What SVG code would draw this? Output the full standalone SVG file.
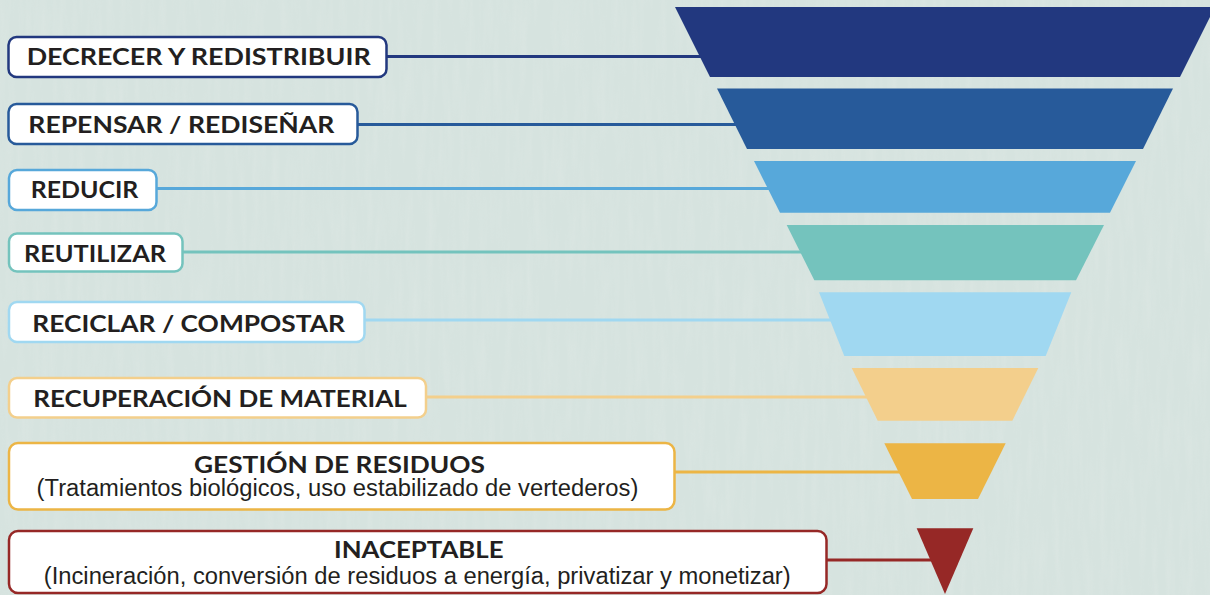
<svg xmlns="http://www.w3.org/2000/svg" width="1210" height="595" viewBox="0 0 1210 595">
<defs>
<style>
.bg{fill:#d6e3df}
.box{fill:#ffffff;stroke-width:2.5}
.t{font-family:"Lato","Open Sans","Liberation Sans",sans-serif;font-weight:700;font-size:23px;fill:#231f20}
.s{font-family:"Liberation Sans","Arial",sans-serif;font-weight:400;font-size:23px;fill:#231f20}
.c{fill:none;stroke-width:3}
</style>
<filter id="tex" x="0" y="0" width="100%" height="100%">
<feTurbulence type="fractalNoise" baseFrequency="0.15 0.015" numOctaves="3" seed="4" result="n"/>
<feColorMatrix type="matrix" values="0 0 0 0 0.76  0 0 0 0 0.83  0 0 0 0 0.80  0 0 0 -1.8 1.1"/>
</filter>
</defs>
<rect class="bg" x="0" y="0" width="1210" height="595"/>
<rect x="0" y="0" width="1210" height="595" filter="url(#tex)" opacity="0.35"/>

<g id="connectors">
<line class="c" x1="387" y1="56.5" x2="712" y2="56.5" stroke="#22387f"/>
<line class="c" x1="358" y1="124.5" x2="742" y2="124.5" stroke="#275a9a"/>
<line class="c" x1="157" y1="188.5" x2="772" y2="188.5" stroke="#57a8da"/>
<line class="c" x1="183" y1="252" x2="806" y2="252" stroke="#74c3bd"/>
<line class="c" x1="365" y1="320" x2="838" y2="320" stroke="#a0d8f1"/>
<line class="c" x1="427" y1="397" x2="870" y2="397" stroke="#f3cf8c"/>
<line class="c" x1="675" y1="472" x2="905" y2="472" stroke="#ecb545"/>
<line class="c" x1="827" y1="560" x2="935" y2="560" stroke="#962826"/>
</g>

<g id="n1">
<polygon points="675,7 1215,7 1180,77 710,77" fill="#22387f"/>
<rect class="box" x="8.5" y="37" width="378" height="40" rx="8" stroke="#22387f"/>
<text class="t" x="26.7" y="65" textLength="344" lengthAdjust="spacingAndGlyphs">DECRECER Y REDISTRIBUIR</text>
</g>

<g id="n2">
<polygon points="717,88.5 1173,88.5 1143,149 747,149" fill="#275a9a"/>
<rect class="box" x="8.5" y="104" width="349" height="40" rx="8" stroke="#275a9a"/>
<text class="t" x="28.3" y="133.3" textLength="306" lengthAdjust="spacingAndGlyphs">REPENSAR / REDISEÑAR</text>
</g>

<g id="n3">
<polygon points="754,161 1136,161 1110,212.7 780,212.7" fill="#57a8da"/>
<rect class="box" x="9" y="170" width="147.5" height="40" rx="8" stroke="#57a8da"/>
<text class="t" x="30.7" y="198.3" textLength="107.6" lengthAdjust="spacingAndGlyphs">REDUCIR</text>
</g>

<g id="n4">
<polygon points="786.7,225 1104,225 1076,280.3 814.3,280.3" fill="#74c3bd"/>
<rect class="box" x="9" y="233.5" width="173.5" height="38" rx="8" stroke="#74c3bd"/>
<text class="t" x="24" y="261.7" textLength="142" lengthAdjust="spacingAndGlyphs">REUTILIZAR</text>
</g>

<g id="n5">
<polygon points="819,292.3 1071.3,292.3 1045.7,356 844.3,356" fill="#a0d8f1"/>
<rect class="box" x="9" y="302" width="355.5" height="40" rx="8" stroke="#a0d8f1"/>
<text class="t" x="32.3" y="331.7" textLength="312.7" lengthAdjust="spacingAndGlyphs">RECICLAR / COMPOSTAR</text>
</g>

<g id="n6">
<polygon points="851.7,368 1038.3,368 1012.3,420.7 877.7,420.7" fill="#f3cf8c"/>
<rect class="box" x="9" y="378" width="417" height="39.5" rx="8" stroke="#f3cf8c"/>
<text class="t" x="33.3" y="407.3" textLength="373.4" lengthAdjust="spacingAndGlyphs">RECUPERACIÓN DE MATERIAL</text>
</g>

<g id="n7">
<polygon points="884.3,443.3 1005.7,443.3 978,499 912,499" fill="#ecb545"/>
<rect class="box" x="9" y="443" width="665.5" height="66.5" rx="9" stroke="#ecb545"/>
<text class="t" x="194" y="472.7" textLength="291" lengthAdjust="spacingAndGlyphs">GESTIÓN DE RESIDUOS</text>
<text class="s" x="36.6" y="496" textLength="601.7" lengthAdjust="spacingAndGlyphs">(Tratamientos biológicos, uso estabilizado de vertederos)</text>
</g>

<g id="n8">
<polygon points="916.7,528.3 973.3,528.3 945,594" fill="#962826"/>
<rect class="box" x="9" y="531" width="817.5" height="62" rx="9" stroke="#962826"/>
<text class="t" x="334" y="558.3" textLength="169.6" lengthAdjust="spacingAndGlyphs">INACEPTABLE</text>
<text class="s" x="43.8" y="584" textLength="746.9" lengthAdjust="spacingAndGlyphs">(Incineración, conversión de residuos a energía, privatizar y monetizar)</text>
</g>
</svg>
